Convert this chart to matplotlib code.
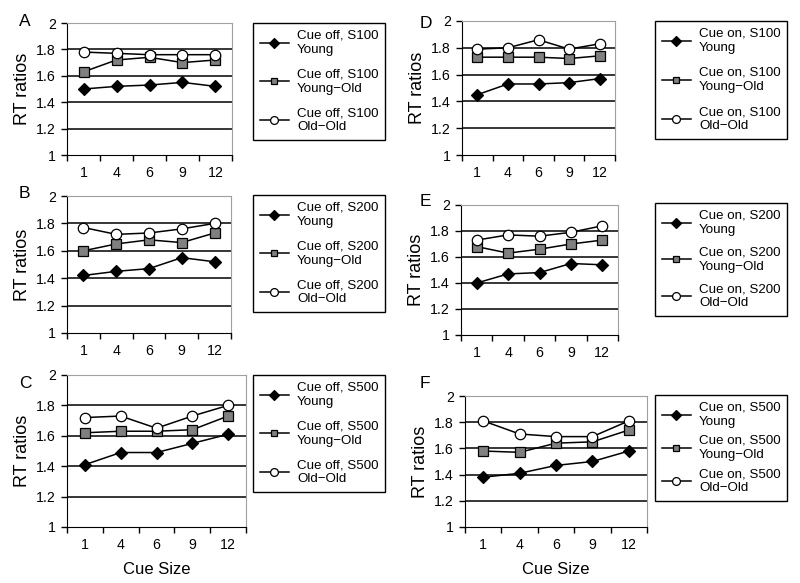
import matplotlib.pyplot as plt
import numpy as np

cue_sizes = ['1', '4', '6', '9', '12']
panel_letters = ['A', 'B', 'C', 'D', 'E', 'F']
panel_titles = ['Cue off, S100', 'Cue off, S200', 'Cue off, S500',
                'Cue on, S100', 'Cue on, S200', 'Cue on, S500']
groups = ['Young', 'Young\u2212Old', 'Old\u2212Old']

young = [
    [1.50, 1.52, 1.53, 1.55, 1.52],
    [1.42, 1.45, 1.47, 1.55, 1.52],
    [1.41, 1.49, 1.49, 1.55, 1.61],
    [1.45, 1.53, 1.53, 1.54, 1.57],
    [1.40, 1.47, 1.48, 1.55, 1.54],
    [1.38, 1.41, 1.47, 1.50, 1.58],
]
young_old = [
    [1.63, 1.72, 1.74, 1.70, 1.72],
    [1.60, 1.65, 1.68, 1.66, 1.73],
    [1.62, 1.63, 1.63, 1.64, 1.73],
    [1.73, 1.73, 1.73, 1.72, 1.74],
    [1.68, 1.63, 1.66, 1.70, 1.73],
    [1.58, 1.57, 1.64, 1.65, 1.74],
]
old_old = [
    [1.78, 1.77, 1.76, 1.76, 1.76],
    [1.77, 1.72, 1.73, 1.76, 1.80],
    [1.72, 1.73, 1.65, 1.73, 1.80],
    [1.79, 1.80, 1.86, 1.79, 1.83],
    [1.73, 1.77, 1.76, 1.79, 1.84],
    [1.81, 1.71, 1.69, 1.69, 1.81],
]

W, H = 800, 583
# axes boxes in pixels: left, right, top, bottom
ax_px = [(67, 232, 23, 155), (67, 231, 196, 333), (67, 246, 375, 527),
         (462, 615, 21, 155), (461, 618, 205, 335), (465, 647, 396, 527)]
# legend boxes: left, top, height
leg_px = [(253, 23, 117), (253, 195, 117), (253, 375, 117),
          (655, 21, 118), (655, 203, 113), (655, 395, 106)]
letter_px = [(19, 22), (19, 194), (19, 384), (420, 24), (420, 202), (420, 384)]

plt.rcParams['font.family'] = ['Liberation Sans', 'DejaVu Sans']
fig = plt.figure(figsize=(W / 100, H / 100), dpi=100)

styles = [
    dict(marker='D', markersize=6.5, markerfacecolor='black', markeredgecolor='black'),
    dict(marker='s', markersize=6.5, markerfacecolor='#808080', markeredgecolor='black'),
    dict(marker='o', markersize=7.5, markerfacecolor='white', markeredgecolor='black'),
]


def make_legend(ax, lx, ly, spacing):
    leg = ax.legend(loc='upper left', bbox_to_anchor=(lx / W, 1 - ly / H),
                    bbox_transform=fig.transFigure, borderaxespad=0,
                    fancybox=False, edgecolor='black', framealpha=1,
                    fontsize=9.6, handlelength=2.2, handletextpad=0.6,
                    labelspacing=spacing, borderpad=0.5, markerscale=0.75)
    leg.get_frame().set_linewidth(1.0)
    for txt in leg.get_texts():
        txt.set_linespacing(1.25)
    return leg


x = np.arange(len(cue_sizes))
axes = []
for i in range(6):
    l, r, t, b = ax_px[i]
    ax = fig.add_axes([l / W, 1 - b / H, (r - l) / W, (b - t) / H])
    axes.append(ax)
    series = [young[i], young_old[i], old_old[i]]
    for vals, grp, st in zip(series, groups, styles):
        ax.plot(x, vals, color='black', lw=1.1, markeredgewidth=0.9,
                label=panel_titles[i] + '\n' + grp, zorder=3, clip_on=False, **st)

    ax.set_ylim(1, 2)
    ax.set_xlim(-0.5, len(cue_sizes) - 0.5)
    ax.set_yticks([1, 1.2, 1.4, 1.6, 1.8, 2])
    ax.set_yticklabels(['1', '1.2', '1.4', '1.6', '1.8', '2'])
    for yv in [1.2, 1.4, 1.6, 1.8]:
        ax.axhline(yv, color='black', lw=1.1, zorder=1)
    ax.set_xticks(np.arange(-0.5, len(cue_sizes)), minor=False)
    ax.set_xticklabels([])
    ax.set_xticks(x, minor=True)
    ax.set_xticklabels(cue_sizes, minor=True)
    ax.tick_params(axis='x', which='major', direction='out', length=4, width=1)
    ax.tick_params(axis='x', which='minor', length=0, pad=8, labelsize=10.2)
    ax.tick_params(axis='y', direction='out', length=4, width=1, labelsize=10.2, pad=4)
    ax.spines['left'].set_color('black')
    ax.spines['bottom'].set_color('black')
    ax.spines['top'].set_color('#a0a0a0')
    ax.spines['right'].set_color('#a0a0a0')
    ax.set_ylabel('RT ratios', fontsize=13, labelpad=4)
    if i in (2, 5):
        ax.set_xlabel('Cue Size', fontsize=12, labelpad=7)

    px, py = letter_px[i]
    fig.text(px / W, 1 - py / H, panel_letters[i], fontsize=12.5,
             ha='left', va='center')

# stretch legend entry spacing so each box gets the reference height
renderer = fig.canvas.get_renderer()
for i, ax in enumerate(axes):
    lx, ly, lh = leg_px[i]
    leg = make_legend(ax, lx, ly, 0.5)
    h0 = leg.get_window_extent(renderer).height
    extra = (lh - h0) / 2 / (9.6 * 100 / 72)
    make_legend(ax, lx, ly, max(0.2, 0.5 + extra))

fig.savefig('out.png', dpi=100)
